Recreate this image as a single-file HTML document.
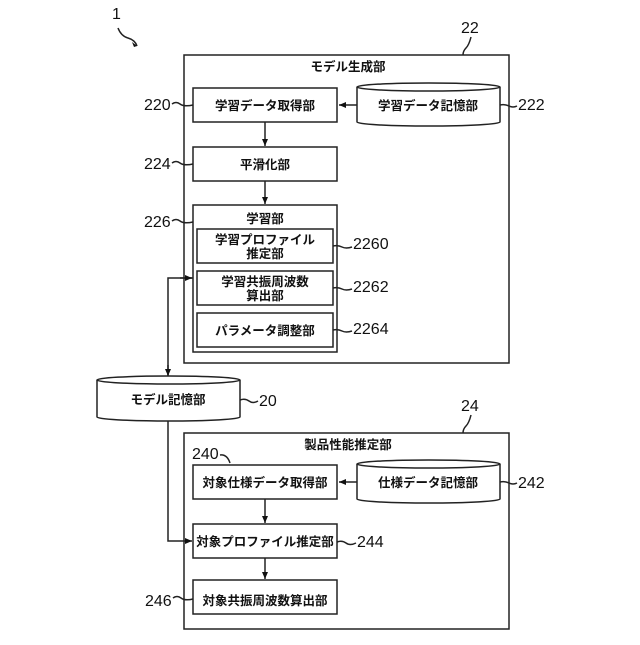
<!DOCTYPE html>
<html><head><meta charset="utf-8"><style>
html,body{margin:0;padding:0;background:#fff}
text{font-family:"Liberation Sans","Noto Sans CJK JP",sans-serif;fill:#111}
.j{font-size:12.5px;text-anchor:middle;font-weight:bold}
.n{font-size:16px}
</style></head><body>
<svg width="640" height="640" viewBox="0 0 640 640" xmlns="http://www.w3.org/2000/svg">
<defs><marker id="a" markerWidth="8" markerHeight="8" refX="7" refY="3" orient="auto" markerUnits="userSpaceOnUse"><path d="M0,0 L7,3 L0,6z" fill="#111"/></marker></defs>
<g fill="none" stroke="#222" stroke-width="1.5">
<rect x="184" y="55" width="325" height="308"/>
<rect x="193" y="88" width="144" height="34"/>
<rect x="193" y="147" width="144" height="34"/>
<rect x="193" y="205" width="144" height="147"/>
<rect x="197" y="229" width="136" height="34"/>
<rect x="197" y="271" width="136" height="34"/>
<rect x="197" y="313" width="136" height="34"/>
<rect x="184" y="433" width="325" height="196"/>
<rect x="193" y="465" width="144" height="34"/>
<rect x="193" y="524" width="144" height="34"/>
<rect x="193" y="580" width="144" height="34"/>
<path d="M357,87 A71.5,4 0 0 1 500,87 V122 A71.5,4 0 0 1 357,122 Z"/><path d="M357,87 A71.5,4 0 0 0 500,87"/>
<path d="M357,464 A71.5,4 0 0 1 500,464 V499 A71.5,4 0 0 1 357,499 Z"/><path d="M357,464 A71.5,4 0 0 0 500,464"/>
<path d="M97,380 A71.5,4 0 0 1 240,380 V417 A71.5,4 0 0 1 97,417 Z"/><path d="M97,380 A71.5,4 0 0 0 240,380"/>
<line x1="357" y1="105" x2="339" y2="105" marker-end="url(#a)"/>
<line x1="265" y1="122" x2="265" y2="146" marker-end="url(#a)"/>
<line x1="265" y1="181" x2="265" y2="204" marker-end="url(#a)"/>
<polyline points="193,278 168,278 168,375" />
<line x1="180" y1="278" x2="192" y2="278" marker-end="url(#a)"/>
<line x1="168" y1="365" x2="168" y2="376" marker-end="url(#a)"/>
<polyline points="168,421 168,541 192,541" marker-end="url(#a)"/>
<line x1="357" y1="482" x2="339" y2="482" marker-end="url(#a)"/>
<line x1="265" y1="499" x2="265" y2="523" marker-end="url(#a)"/>
<line x1="265" y1="558" x2="265" y2="579" marker-end="url(#a)"/>
<path d="M172,104 q4,-3 8,0 t13,1"/>
<path d="M172,163 q4,-3 8,0 t13,1"/>
<path d="M172,221 q4,-3 8,0 t13,1"/>
<path d="M500,105 q5,-1 9,1 t8,0"/>
<path d="M333,246 q5,-1 9,1 t10,0"/>
<path d="M333,288 q5,-1 9,1 t10,0"/>
<path d="M333,330 q5,-1 9,1 t10,0"/>
<path d="M240,400 q5,-2 9,1 t9,0"/>
<path d="M471,37 q-2,8 -5,11 t-3,7"/>
<path d="M471,415 q-2,8 -5,11 t-3,7"/>
<path d="M220,455 q7,-1 10,8"/>
<path d="M500,482 q5,-1 9,1 t8,0"/>
<path d="M337,542 q5,-2 9,1 t10,0"/>
<path d="M173,598 q4,-3 8,0 t12,1"/>
<path d="M118,28 q3,8 10,10 t9,8" />
</g>
<path d="M132,42 L137,46 L134,47z" fill="#111"/>
<text class="j" x="348" y="71">モデル生成部</text>
<text class="j" x="265" y="110">学習データ取得部</text>
<text class="j" x="428" y="110">学習データ記憶部</text>
<text class="j" x="265" y="169">平滑化部</text>
<text class="j" x="265" y="223">学習部</text>
<text class="j" x="265" y="244">学習プロファイル</text>
<text class="j" x="265" y="258">推定部</text>
<text class="j" x="265" y="286">学習共振周波数</text>
<text class="j" x="265" y="300">算出部</text>
<text class="j" x="265" y="335">パラメータ調整部</text>
<text class="j" x="168" y="404">モデル記憶部</text>
<text class="j" x="348" y="449">製品性能推定部</text>
<text class="j" x="265" y="487">対象仕様データ取得部</text>
<text class="j" x="428" y="487">仕様データ記憶部</text>
<text class="j" x="265" y="546">対象プロファイル推定部</text>
<text class="j" x="265" y="605">対象共振周波数算出部</text>
<text x="112" y="19" class="n">1</text>
<text x="461" y="33" class="n">22</text>
<text x="144" y="110" class="n">220</text>
<text x="518" y="110" class="n">222</text>
<text x="144" y="169" class="n">224</text>
<text x="144" y="227" class="n">226</text>
<text x="353" y="249" class="n">2260</text>
<text x="353" y="292" class="n">2262</text>
<text x="353" y="334" class="n">2264</text>
<text x="259" y="406" class="n">20</text>
<text x="461" y="411" class="n">24</text>
<text x="192" y="459" class="n">240</text>
<text x="518" y="488" class="n">242</text>
<text x="357" y="547" class="n">244</text>
<text x="145" y="606" class="n">246</text>
</svg>
</body></html>
